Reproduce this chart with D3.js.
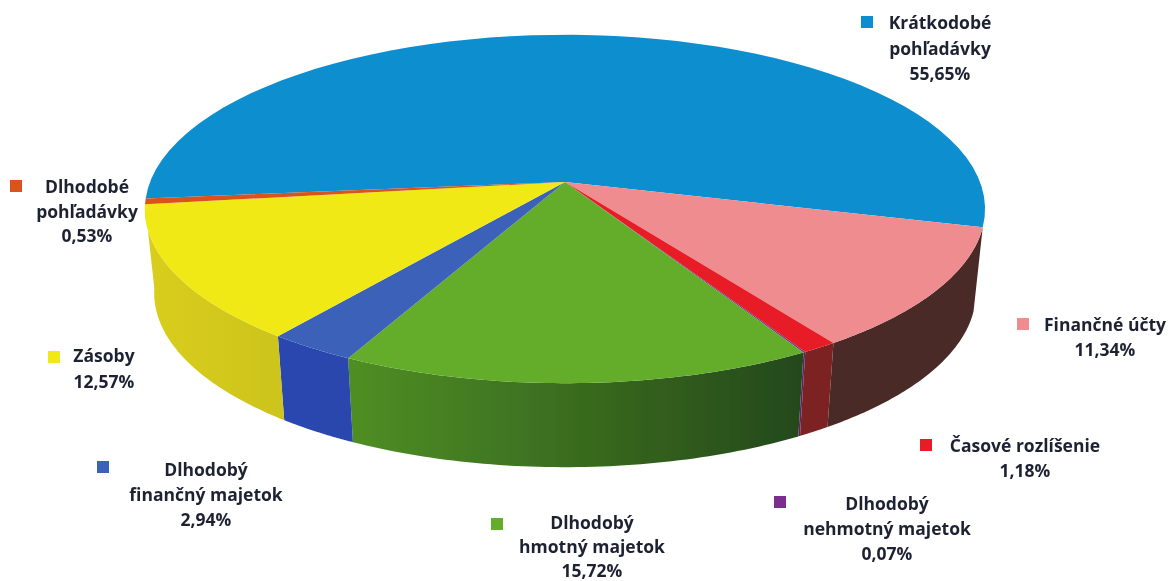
<!DOCTYPE html>
<html><head><meta charset="utf-8">
<script src="https://cdn.jsdelivr.net/npm/d3@7"></script>
<style>html,body{margin:0;padding:0;background:#fff}svg{display:block}</style>
</head><body><svg id="c" width="1172" height="581"></svg>
<script>
const categories = ["Krátkodobé pohľadávky","Finančné účty","Časové rozlíšenie","Dlhodobý nehmotný majetok","Dlhodobý hmotný majetok","Dlhodobý finančný majetok","Zásoby","Dlhodobé pohľadávky"];
const values = [55.65,11.34,1.18,0.07,15.72,2.94,12.57,0.53];
const valueLabels = ["55,65%","11,34%","1,18%","0,07%","15,72%","2,94%","12,57%","0,53%"];
const labelLines = [["Krátkodobé","pohľadávky"],["Finančné účty"],["Časové rozlíšenie"],["Dlhodobý","nehmotný majetok"],["Dlhodobý","hmotný majetok"],["Dlhodobý","finančný majetok"],["Zásoby"],["Dlhodobé","pohľadávky"]];
const topColors = ["#0b8fcf","#ee8c90","#e71d25","#7b2f8e","#63ad2c","#3a62b8","#f0e916","#d9531e"];
const wallLeft = ["#0b8fcf","#4a2b25","#7c2422","#5a2468","#4f8f24","#2b46b0","#d9ce1c","#b03c12"];
const wallRight = ["#0b8fcf","#4a2b25","#7c2422","#5a2468","#24481a","#2b46ae","#cdc41c","#b03c12"];
const hasWall = [false,true,true,true,true,true,true,false];
const swatches = [[861,16],[1017,318],[920,439],[774,496],[491,518],[97,461],[48,351],[10,180]];
const labelCx = [940,1105,1025,887,592,206,104,87];
const labelBase = [[29,55,80],[331,356],[452,477],[510,535,560],[529,553,577],[476,501,526],[362,388],[193,218,242]];

const cx=565, cy=182, Rx=415, Ry=170, persp=0.155, depth=84, shrink=0.978;
const proj = a => { const u=Math.sin(a), v=-Math.cos(a), s=1/(1-persp*v); return [cx+Rx*u*s, cy+Ry*v*s]; };
const rad = d3.scaleLinear().domain([0,360]).range([0,2*Math.PI]);
const start = rad(-95.5);
const pie = d3.pie().sort(null).startAngle(start).endAngle(start+2*Math.PI)(values);
const line = d3.line();
const arcPts = (a0,a1) => d3.range(0,61).map(i=>proj(a0+(a1-a0)*i/60));

const svg=d3.select("#c");
const defs=svg.append("defs");
defs.append("filter").attr("id","scan").append("feGaussianBlur").attr("stdDeviation",0.45);
const g=svg.append("g").attr("filter","url(#scan)");

pie.forEach((d,i)=>{
  if(!hasWall[i]) return;
  const top=arcPts(d.startAngle,d.endAngle);
  const bot=top.map(p=>[cx+(p[0]-cx)*shrink,p[1]+depth]).reverse();
  const ext=d3.extent(top,p=>p[0]);
  const id="w"+i;
  const lg=defs.append("linearGradient").attr("id",id).attr("gradientUnits","userSpaceOnUse")
    .attr("x1",ext[0]).attr("x2",ext[1]).attr("y1",0).attr("y2",0);
  lg.append("stop").attr("offset",0).attr("stop-color",wallLeft[i]);
  lg.append("stop").attr("offset",1).attr("stop-color",wallRight[i]);
  g.append("path").attr("d",line(top.concat(bot))+"Z").attr("fill",`url(#${id})`);
});
pie.forEach((d,i)=>{
  const pts=[[cx,cy]].concat(arcPts(d.startAngle,d.endAngle));
  g.append("path").attr("d",line(pts)+"Z").attr("fill",topColors[i]);
});

const t=svg.append("g").attr("font-family","'Open Sans', sans-serif").attr("font-weight",700).attr("font-size",17.5).attr("fill","#1f2233").attr("text-anchor","middle").attr("filter","url(#scan)");
categories.forEach((c,i)=>{
  t.append("rect").attr("x",swatches[i][0]).attr("y",swatches[i][1]).attr("width",12).attr("height",12).attr("fill",topColors[i]);
  labelLines[i].concat([valueLabels[i]]).forEach((s,j)=>{
    t.append("text").attr("x",labelCx[i]).attr("y",labelBase[i][j]).text(s);
  });
});
</script></body></html>
